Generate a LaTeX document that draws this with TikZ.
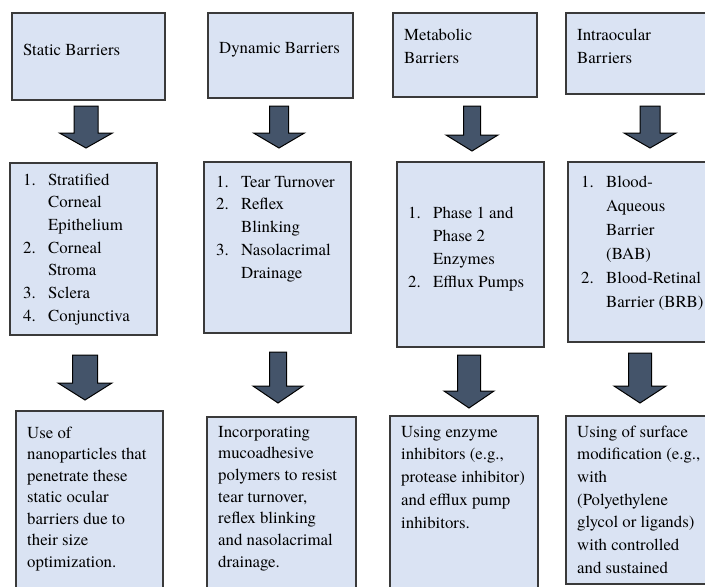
\documentclass[tikz,border=0pt]{standalone}
\usepackage{fontspec}
\setmainfont{TeX Gyre Termes}
\definecolor{boxfill}{HTML}{DAE3F3}
\definecolor{boxline}{HTML}{3A3A3A}
\definecolor{arrowfill}{HTML}{44546A}
\newcommand\itm[2]{\makebox[25pt][l]{#1}#2}
\newcommand\cont[1]{\hspace*{25pt}#1}
% block arrow: cx, top, shaft half width, head half width, head start, tip
\newcommand\blockarrow[6]{%
  \draw[barrow] (#1-#3,#2) -- (#1+#3,#2) -- (#1+#3,#5) -- (#1+#4,#5) -- (#1,#6)
    -- (#1-#4,#5) -- (#1-#3,#5) -- cycle;}
\newcommand\fs[1]{\fontsize{16.8pt}{#1}\selectfont}
\tikzset{
  box/.style={draw=boxline, fill=boxfill, line width=1.2pt, inner sep=0pt, outer sep=0pt, anchor=north west},
  txt/.style={inner sep=0pt, anchor=base west, font=\fs{23pt}},
  barrow/.style={fill=arrowfill, draw=black, line width=1pt, line join=miter}
}
\begin{document}
\begin{tikzpicture}[x=1pt,y=-1pt]
\useasboundingbox (0,0) rectangle (705,587);
% top row
\node[box, minimum width=153pt, minimum height=87pt] (b1) at (12,13) {};
\node[box, minimum width=145pt, minimum height=85pt] (b2) at (208,13) {};
\node[box, minimum width=144pt, minimum height=84pt] (b3) at (393,13) {};
\node[box, minimum width=150pt, minimum height=81pt] (b4) at (566,13) {};
\node[txt] (t1) at (23,55) {Static Barriers};
\node[txt] (t2) at (219,53) {Dynamic Barriers};
\node[txt] (t3) at (404,40) {\parbox[t]{130pt}{Metabolic\\Barriers}};
\node[txt] (t4) at (577,40) {\parbox[t]{130pt}{Intraocular\\Barriers}};
% middle row
\node[box, minimum width=147pt, minimum height=172pt] (b5) at (10,163) {};
\node[box, minimum width=147pt, minimum height=171pt] (b6) at (204,162) {};
\node[box, minimum width=147pt, minimum height=185pt] (b7) at (397,162) {};
\node[box, minimum width=150pt, minimum height=180pt] (b8) at (568,162) {};
\node[txt, font=\fs{22.7pt}] (t5) at (23,185) {\parbox[t]{140pt}{\itm{1.}{Stratified}\\\cont{Corneal}\\\cont{Epithelium}\\\itm{2.}{Corneal}\\\cont{Stroma}\\\itm{3.}{Sclera}\\\itm{4.}{Conjunctiva}}};
\node[txt, font=\fs{22.8pt}] (t6) at (216,187) {\parbox[t]{140pt}{\itm{1.}{Tear Turnover}\\\itm{2.}{Reflex}\\\cont{Blinking}\\\itm{3.}{Nasolacrimal}\\\cont{Drainage}}};
\node[txt, font=\fs{23.3pt}] (t7) at (408,218) {\parbox[t]{140pt}{\itm{1.}{Phase 1 and}\\\cont{Phase 2}\\\cont{Enzymes}\\\itm{2.}{Efflux Pumps}}};
\node[txt, font=\fs{24.1pt}] (t8) at (581,187) {\parbox[t]{140pt}{\itm{1.}{Blood-}\\\cont{Aqueous}\\\cont{Barrier}\\\cont{(BAB)}\\\itm{2.}{Blood-Retinal}\\\cont{Barrier (BRB)}}};
% bottom row
\node[box, minimum width=147pt, minimum height=190pt] (b9) at (16,411) {};
\node[box, minimum width=149pt, minimum height=190pt] (b10) at (207,417) {};
\node[box, minimum width=148pt, minimum height=190pt] (b11) at (390,416) {};
\node[box, minimum width=150pt, minimum height=168pt] (b12) at (566,416) {};
\node[txt, font=\fs{21.5pt}] (t9) at (27,438) {\parbox[t]{140pt}{Use of\\nanoparticles that\\penetrate these\\static ocular\\barriers due to\\their size\\optimization.}};
\node[txt, font=\fs{21.7pt}] (t10) at (218,437) {\parbox[t]{140pt}{Incorporating\\mucoadhesive\\polymers to resist\\tear turnover,\\reflex blinking\\and nasolacrimal\\drainage.}};
\node[txt, font=\fs{22.75pt}] (t11) at (401,437) {\parbox[t]{140pt}{Using enzyme\\inhibitors (e.g.,\\protease inhibitor)\\and efflux pump\\inhibitors.}};
\node[txt, font=\fs{22.7pt}] (t12) at (577,437) {\parbox[t]{140pt}{Using of surface\\modification (e.g.,\\with\\(Polyethylene\\glycol or ligands)\\with controlled\\and sustained}};
% arrows
\blockarrow{86}{106}{12}{26.5}{133}{148}
\blockarrow{279}{106}{9.5}{25.5}{133}{148}
\blockarrow{472}{106}{8.5}{26}{135}{151}
\blockarrow{650}{106}{10}{26}{133}{148}
\blockarrow{85}{355}{12.5}{27}{383}{400}
\blockarrow{278}{352}{8.5}{25}{386}{403}
\blockarrow{469}{355}{11.5}{25}{391}{408}
\blockarrow{640}{353}{11.5}{26}{386}{403}
\end{tikzpicture}
\end{document}
